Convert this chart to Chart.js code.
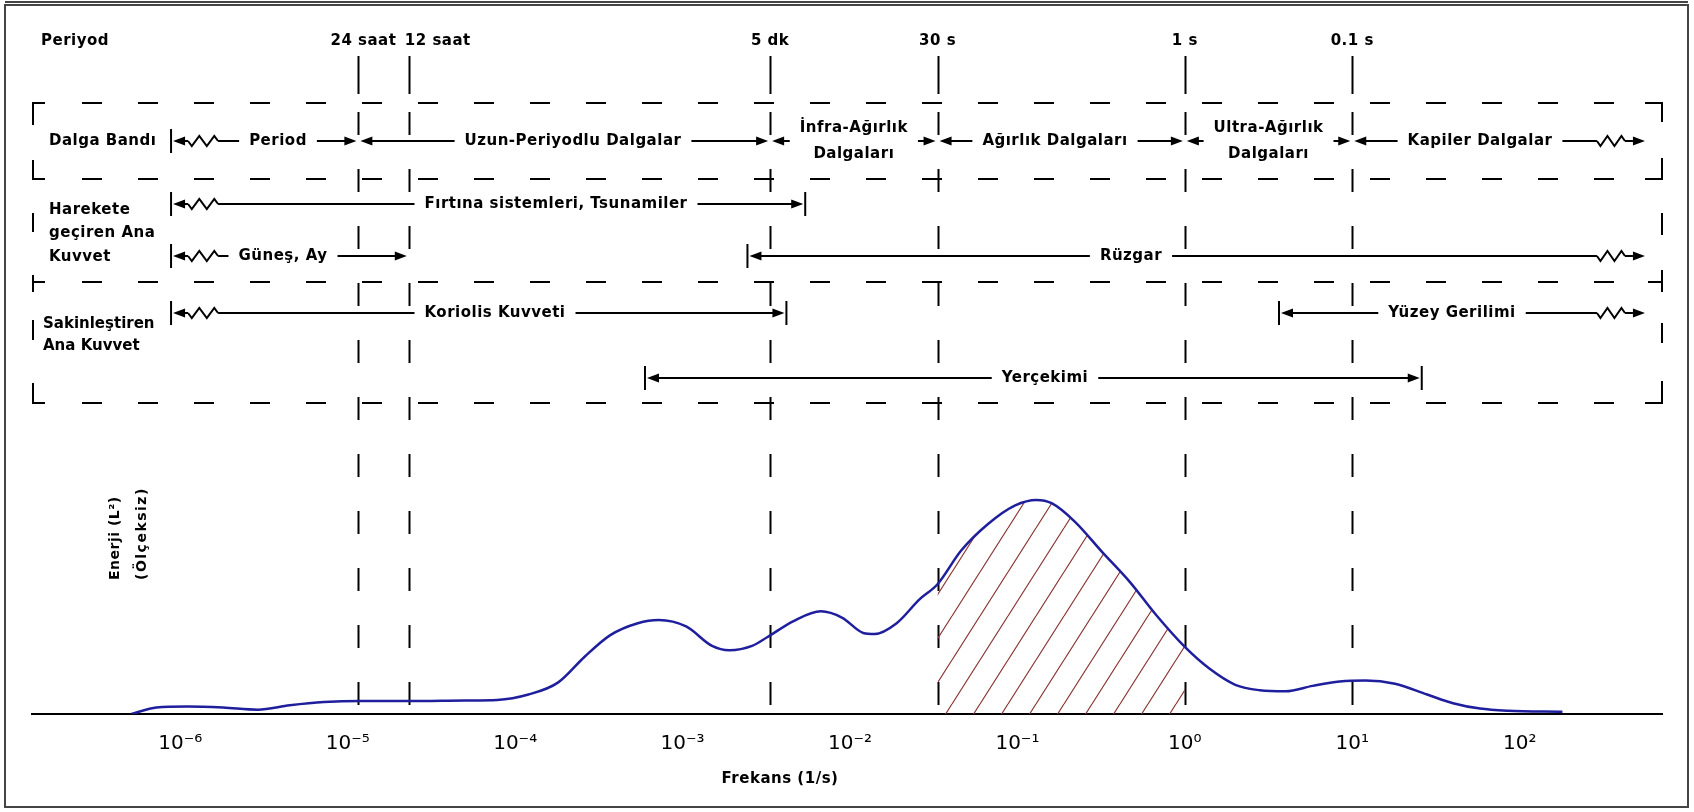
<!DOCTYPE html>
<html>
<head>
<meta charset="utf-8">
<script src="https://cdn.jsdelivr.net/npm/chart.js@4/dist/chart.umd.min.js"></script>
<style>
body{margin:0;background:#fff;}
#wrap{width:1694px;height:812px;}
</style>
</head>
<body>
<div id="wrap"><canvas id="chart"></canvas></div>
<script>
// spektrum egrisi: frekans (1/s) ve enerji (birimsiz)
const freq=[5.1e-7,7.2e-7,1.1e-6,1.8e-6,2.9e-6,4.5e-6,7.2e-6,1.2e-5,2.3e-5,5e-5,7.8e-5,1.2e-4,1.8e-4,2.6e-4,3.7e-4,5.4e-4,7.2e-4,1.05e-3,1.5e-3,1.9e-3,2.6e-3,3.2e-3,4.6e-3,6.7e-3,9e-3,1.2e-2,1.4e-2,1.9e-2,2.6e-2,3.33e-2,4.6e-2,6.7e-2,9.7e-2,0.13,0.16,0.22,0.32,0.47,0.67,1.0,1.4,2.0,2.8,4.0,5.8,8.4,12,18,28,40,58,85,180];
const energy=[0,6,7,6,4,8,11,12,12,12.5,13,18,29,53,73,84,87,81,63,59,63,71,86,95,89,75,74,84,106,120,151,176,193,198,195,178,150,122,92,62,42,27,22,21,26,30,31,28,18,10,5,3,2];

const tickPowers=[-6,-5,-4,-3,-2,-1,0,1,2];
const periodLabels=['24 saat','12 saat','5 dk','30 s','1 s','0.1 s'];
const periodFreqs=[1/86400,1/43200,1/300,1/30,1,10];
const hatchFrom=1/30, hatchTo=1;

// dalga bantlari ve sinirlari
const waveBands=['Period','Uzun-Periyodlu Dalgalar','İnfra-Ağırlık|Dalgaları','Ağırlık Dalgaları','Ultra-Ağırlık|Dalgaları','Kapiler Dalgalar'];
const waveEdges=[8.8e-7,1/86400,1/300,1/30,1,10,560];
// kuvvetler: ad, baslangic, bitis frekansi
const forceNames=['Fırtına sistemleri, Tsunamiler','Güneş, Ay','Rüzgar','Koriolis Kuvveti','Yüzey Gerilimi','Yerçekimi'];
const forceFrom=[8.8e-7,8.8e-7,2.44e-3,8.8e-7,3.65,5.96e-4];
const forceTo=[5.4e-3,1/43200,560,4.17e-3,560,26];

Chart.defaults.font.family="'DejaVu Sans'";

const SUP={'-':'⁻','0':'⁰','1':'¹','2':'²','3':'³','4':'⁴','5':'⁵','6':'⁶','7':'⁷','8':'⁸','9':'⁹'};
function sup(n){return String(n).split('').map(c=>SUP[c]).join('');}

const hatch=(function(){
    const w=28,h=44;
    const c=document.createElement('canvas');c.width=w;c.height=h;
    const g=c.getContext('2d');
    g.strokeStyle='#8b3535';g.lineWidth=1.2;
    g.beginPath();
    g.moveTo(0,h);g.lineTo(w,0);
    g.moveTo(-w,h);g.lineTo(0,0);
    g.moveTo(w,h);g.lineTo(2*w,0);
    g.stroke();
    return g.createPattern(c,'repeat');
})();

const B='bold 15px "DejaVu Sans"';

function setFont(c,f,sp){c.font=f;if('letterSpacing' in c)c.letterSpacing=(sp===undefined?0.5:sp)+'px';}
function line(c,x1,y1,x2,y2){c.beginPath();c.moveTo(x1,y1);c.lineTo(x2,y2);c.stroke();}
function tick(c,x,y){line(c,x,y-12,x,y+12);}
function arrow(c,tip,y,dir){
    c.beginPath();c.moveTo(tip,y);c.lineTo(tip-dir*12,y-4.5);c.lineTo(tip-dir*12,y+4.5);c.closePath();c.fill();
}
function zig(c,x,y,w){
    const s=w/4;
    c.beginPath();c.moveTo(x,y);
    c.lineTo(x+s*0.5,y+5);c.lineTo(x+s*1.5,y-5);c.lineTo(x+s*2.5,y+5);c.lineTo(x+s*3.5,y-5);c.lineTo(x+w,y);
    c.stroke();
}
function band(c,y,x1,x2,label,lx,o){
    c.lineWidth=2;c.strokeStyle='#000';c.fillStyle='#000';
    let a,b;
    if(o.openL){tick(c,x1,y);arrow(c,x1+2,y,-1);line(c,x1+12,y,x1+17,y);zig(c,x1+17,y,30);a=x1+47;}
    else{if(o.tickL)tick(c,x1,y);arrow(c,x1+2,y,-1);a=x1+12;}
    if(o.openR){arrow(c,x2,y,1);line(c,x2-20,y,x2-12,y);zig(c,x2-48,y,28);b=x2-48;}
    else{if(o.tickR)tick(c,x2,y);arrow(c,x2-2,y,1);b=x2-12;}
    const parts=label.split('|');
    setFont(c,B);c.textAlign='center';c.textBaseline='middle';
    const w=Math.max(...parts.map(p=>c.measureText(p).width));
    if(lx===null)lx=(x1+x2)/2;
    const l=lx-w/2-10,r=lx+w/2+10;
    if(l>a)line(c,a,y,l,y);
    if(r<b)line(c,r,y,b,y);
    if(parts.length===1)c.fillText(parts[0],lx,y);
    else{c.fillText(parts[0],lx,y-13);c.fillText(parts[1],lx,y+13);}
}

const diagram={
    id:'diagram',
    beforeDraw(chart){
        const c=chart.ctx;c.save();c.fillStyle='#fff';c.fillRect(0,0,chart.width,chart.height);c.restore();
    },
    beforeDatasetsDraw(chart){
        const c=chart.ctx,x=chart.scales.x,bot=chart.chartArea.bottom;
        c.save();c.strokeStyle='#000';c.lineWidth=2;
        periodFreqs.forEach(f=>{
            const px=Math.round(x.getPixelForValue(f))+0.5;
            c.setLineDash([]);line(c,px,56,px,94);
            c.setLineDash([23,34]);line(c,px,112,px,bot);
        });
        c.restore();
    },
    afterDraw(chart){
        const c=chart.ctx,x=chart.scales.x;
        const P=f=>x.getPixelForValue(f);
        c.save();
        // cerceve
        c.strokeStyle='#444';c.lineWidth=2;c.strokeRect(5,5,1683,802);
        line(c,5,2,1688,2);
        // ust etiketler
        c.fillStyle='#000';setFont(c,B);c.textBaseline='middle';
        c.textAlign='left';c.fillText('Periyod',41,41);
        periodLabels.forEach((t,i)=>{
            const px=P(periodFreqs[i]);
            if(i===0){c.textAlign='right';c.fillText(t,px+38,41);}
            else if(i===1){c.textAlign='left';c.fillText(t,px-4,41);}
            else{c.textAlign='center';c.fillText(t,px,41);}
        });
        // kesikli kutular
        c.strokeStyle='#000';c.lineWidth=2;
        c.setLineDash([20,36]);
        [103,179,282,403].forEach(y=>line(c,82,y,1640,y));
        c.setLineDash([]);
        const L=33,R=1662;
        c.beginPath();
        c.moveTo(L,125);c.lineTo(L,103);c.lineTo(L+12,103);
        c.moveTo(R-17,103);c.lineTo(R,103);c.lineTo(R,122);
        c.moveTo(L,160);c.lineTo(L,179);c.lineTo(L+12,179);
        c.moveTo(R-17,179);c.lineTo(R,179);c.lineTo(R,158);
        c.moveTo(L,213);c.lineTo(L,232);
        c.moveTo(R,213);c.lineTo(R,235);
        c.moveTo(L,275);c.lineTo(L,292);c.moveTo(L,282);c.lineTo(L+12,282);
        c.moveTo(R,270);c.lineTo(R,292);c.moveTo(R,282);c.lineTo(R-14,282);
        c.moveTo(L,320);c.lineTo(L,340);
        c.moveTo(R,323);c.lineTo(R,343);
        c.moveTo(L,383);c.lineTo(L,403);c.lineTo(L+12,403);
        c.moveTo(R-17,403);c.lineTo(R,403);c.lineTo(R,381);
        c.stroke();
        // satir basliklari
        c.fillStyle='#000';setFont(c,B);c.textAlign='left';c.textBaseline='middle';
        c.fillText('Dalga Bandı',49,141);
        c.fillText('Harekete',49,210);c.fillText('geçiren Ana',49,233);c.fillText('Kuvvet',49,257);
        setFont(c,B,0);
        c.fillText('Sakinleştiren',43,324);c.fillText('Ana Kuvvet',43,346);
        // dalga bantlari
        const waveLx=[278,573,null,1055,null,1480];
        waveBands.forEach((t,i)=>{
            band(c,141,P(waveEdges[i]),P(waveEdges[i+1]),t,waveLx[i],{openL:i===0,openR:i===waveBands.length-1});
        });
        // kuvvetler
        const fl=[
            {y:204,lx:556,openL:true,tickR:true},
            {y:256,lx:283,openL:true},
            {y:256,lx:1131,tickL:true,openR:true},
            {y:313,lx:495,openL:true,tickR:true},
            {y:313,lx:1452,tickL:true,openR:true},
            {y:378,lx:1045,tickL:true,tickR:true}
        ];
        forceNames.forEach((t,i)=>{
            band(c,fl[i].y,P(forceFrom[i]),P(forceTo[i]),t,fl[i].lx,fl[i]);
        });
        // eksen basliklari
        c.fillStyle='#000';setFont(c,B);c.textAlign='center';c.textBaseline='middle';
        c.fillText('Frekans (1/s)',780,779);
        c.textAlign='left';
        c.translate(115,580);c.rotate(-Math.PI/2);
        setFont(c,'bold 14px "DejaVu Sans"',0.5);
        c.fillText('Enerji (L²)',0,0);
        setFont(c,'bold 14px "DejaVu Sans"',1.5);
        c.fillText('(Ölçeksiz)',0,27);
        c.restore();
    }
};

const points=freq.map((f,i)=>({x:f,y:energy[i]}));

new Chart(document.getElementById('chart'),{
    type:'line',
    data:{
        datasets:[
            {
                data:points,
                borderColor:'#1f1f9e',
                borderWidth:2.5,
                pointRadius:0,
                cubicInterpolationMode:'monotone',
                fill:false
            },
            {
                data:points,
                borderColor:'rgba(0,0,0,0)',
                borderWidth:1,
                pointRadius:0,
                cubicInterpolationMode:'monotone',
                fill:'origin',
                backgroundColor:'rgba(0,0,0,0)',
                segment:{
                    backgroundColor:ctx=>(ctx.p0.parsed.x>=hatchFrom*0.99&&ctx.p1.parsed.x<=hatchTo*1.01)?hatch:'rgba(0,0,0,0)'
                }
            }
        ]
    },
    options:{
        responsive:true,
        maintainAspectRatio:false,
        animation:false,
        layout:{padding:{left:32,right:32,top:100,bottom:0}},
        plugins:{legend:{display:false},tooltip:{enabled:false}},
        scales:{
            x:{
                type:'logarithmic',
                min:1.3e-7,
                max:708,
                afterBuildTicks:s=>{s.ticks=tickPowers.map(p=>({value:Math.pow(10,p)}));},
                afterFit:s=>{s.height=98;},
                grid:{display:false,drawTicks:false},
                border:{display:true,color:'#000',width:2},
                ticks:{
                    autoSkip:false,maxRotation:0,padding:18,color:'#000',
                    font:{size:20},
                    callback:v=>'10'+sup(Math.round(Math.log10(v)))
                }
            },
            y:{display:false,min:0,max:568}
        }
    },
    plugins:[diagram]
});
</script>
</body>
</html>
